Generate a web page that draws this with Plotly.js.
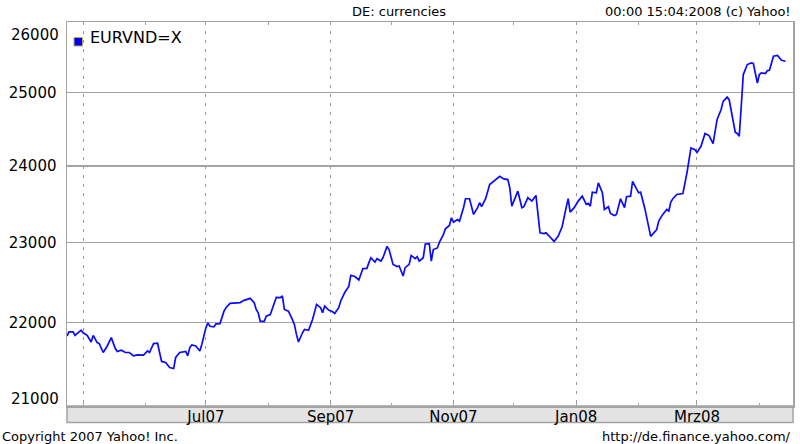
<!DOCTYPE html>
<html><head><meta charset="utf-8">
<script src="https://cdn.plot.ly/plotly-3.0.1.min.js"></script>
<style>html,body{margin:0;padding:0;background:#fff}#chart{width:800px;height:444px}</style>
</head><body><div id="chart"></div>
<script>
const seriesName = 'EURVND=X';
const dates = ['2007-04-23','2007-04-24','2007-04-26','2007-04-27','2007-04-30','2007-05-01','2007-05-03','2007-05-05','2007-05-06','2007-05-08','2007-05-09','2007-05-11','2007-05-13','2007-05-15','2007-05-17','2007-05-18','2007-05-20','2007-05-22','2007-05-24','2007-05-26','2007-05-28','2007-05-31','2007-06-02','2007-06-03','2007-06-05','2007-06-07','2007-06-08','2007-06-09','2007-06-11','2007-06-13','2007-06-15','2007-06-16','2007-06-18','2007-06-21','2007-06-22','2007-06-23','2007-06-24','2007-06-26','2007-06-28','2007-06-29','2007-07-01','2007-07-02','2007-07-03','2007-07-05','2007-07-06','2007-07-08','2007-07-10','2007-07-11','2007-07-13','2007-07-18','2007-07-20','2007-07-23','2007-07-25','2007-07-26','2007-07-27','2007-07-28','2007-07-30','2007-07-31','2007-08-02','2007-08-04','2007-08-05','2007-08-07','2007-08-08','2007-08-09','2007-08-11','2007-08-13','2007-08-14','2007-08-15','2007-08-16','2007-08-18','2007-08-19','2007-08-21','2007-08-23','2007-08-25','2007-08-27','2007-08-28','2007-08-29','2007-08-31','2007-09-02','2007-09-03','2007-09-05','2007-09-06','2007-09-08','2007-09-10','2007-09-11','2007-09-13','2007-09-15','2007-09-17','2007-09-19','2007-09-20','2007-09-21','2007-09-23','2007-09-24','2007-09-26','2007-09-27','2007-09-29','2007-09-30','2007-10-02','2007-10-04','2007-10-05','2007-10-07','2007-10-08','2007-10-10','2007-10-11','2007-10-13','2007-10-14','2007-10-15','2007-10-17','2007-10-18','2007-10-20','2007-10-21','2007-10-22','2007-10-24','2007-10-25','2007-10-27','2007-10-28','2007-10-30','2007-10-31','2007-11-01','2007-11-03','2007-11-04','2007-11-06','2007-11-07','2007-11-09','2007-11-11','2007-11-13','2007-11-14','2007-11-15','2007-11-17','2007-11-19','2007-11-21','2007-11-23','2007-11-24','2007-11-26','2007-11-28','2007-11-29','2007-11-30','2007-12-02','2007-12-03','2007-12-05','2007-12-06','2007-12-08','2007-12-10','2007-12-12','2007-12-14','2007-12-16','2007-12-17','2007-12-19','2007-12-21','2007-12-23','2007-12-25','2007-12-27','2007-12-28','2007-12-29','2007-12-31','2008-01-02','2008-01-04','2008-01-06','2008-01-07','2008-01-08','2008-01-09','2008-01-11','2008-01-12','2008-01-14','2008-01-15','2008-01-17','2008-01-18','2008-01-20','2008-01-21','2008-01-23','2008-01-25','2008-01-26','2008-01-28','2008-01-29','2008-01-31','2008-02-01','2008-02-02','2008-02-04','2008-02-07','2008-02-09','2008-02-10','2008-02-11','2008-02-13','2008-02-15','2008-02-16','2008-02-17','2008-02-18','2008-02-20','2008-02-23','2008-02-25','2008-02-27','2008-02-29','2008-03-01','2008-03-03','2008-03-05','2008-03-07','2008-03-09','2008-03-11','2008-03-13','2008-03-14','2008-03-16','2008-03-17','2008-03-18','2008-03-20','2008-03-21','2008-03-22','2008-03-23','2008-03-24','2008-03-26','2008-03-28','2008-03-29','2008-03-31','2008-04-01','2008-04-02','2008-04-04','2008-04-05','2008-04-06','2008-04-08','2008-04-10','2008-04-11','2008-04-12','2008-04-14'];
const rates = [21833,21885,21885,21841,21904,21873,21841,21761,21841,21754,21742,21634,21713,21814,21682,21646,21662,21634,21634,21594,21606,21602,21653,21634,21742,21746,21634,21527,21515,21455,21443,21575,21634,21646,21594,21694,21725,21713,21653,21734,21933,21993,21952,21945,21981,21985,22138,22180,22234,22243,22271,22296,22243,22159,22118,22013,22013,22075,22096,22243,22309,22305,22325,22159,22138,22034,21972,21853,21761,21873,21913,21904,22034,22221,22180,22118,22200,22150,22130,22109,22180,22263,22368,22443,22584,22568,22525,22668,22671,22743,22805,22750,22793,22763,22805,22950,22909,22721,22693,22700,22575,22680,22721,22834,22793,22818,22763,22805,22980,22984,22763,22909,22930,23000,23100,23175,23218,23318,23261,23296,23274,23449,23566,23566,23361,23449,23514,23462,23566,23752,23795,23827,23861,23827,23818,23709,23469,23600,23665,23449,23462,23579,23535,23609,23123,23113,23123,23070,23013,23078,23201,23449,23566,23391,23449,23535,23600,23492,23505,23469,23652,23644,23774,23644,23426,23462,23374,23348,23361,23566,23449,23592,23600,23795,23687,23644,23652,23449,23078,23143,23166,23274,23361,23426,23404,23522,23566,23622,23635,23905,24241,24218,24181,24263,24437,24409,24300,24628,24764,24877,24937,24900,24741,24454,24437,24400,24809,25251,25392,25416,25407,25133,25251,25275,25265,25307,25312,25510,25520,25487,25453,25439];
const xTickDates = ['2007-05-01','2007-07-01','2007-09-01','2007-11-01','2008-01-01','2008-03-01'];
const xTickLabels = ['','Jul07','Sep07','Nov07','Jan08','Mrz08'];
const yTickVals = [21000,22000,23000,24000,25000,26000];
const yTickLabels = ['','22000','23000','24000','25000',''];
const yEdgeLabels = ['21000','26000'];
const titleText = 'DE: currencies';
const stampText = '00:00 15:04:2008 (c) Yahoo!';
const copyText = 'Copyright 2007 Yahoo! Inc.';
const urlText = 'http://de.finance.yahoo.com/';

const F = 'DejaVu Sans, Verdana, sans-serif';
const grey = '#a3a3a3';

const trace = {
  x: dates, y: rates, type: 'scatter', mode: 'lines', name: seriesName,
  line: {color: '#0a0aff', width: 1.7}, hoverinfo: 'x+y'
};

const layout = {
  width: 800, height: 444,
  margin: {l: 67, r: 7, t: 22, b: 38},
  paper_bgcolor: '#fff', plot_bgcolor: '#fff',
  showlegend: false,
  font: {family: F, color: '#000'},
  xaxis: {
    type: 'date',
    range: ['2007-04-23', '2008-04-17 17:00'],
    tickmode: 'array', tickvals: xTickDates, ticktext: xTickLabels,
    ticks: 'inside', ticklen: 3, tickcolor: grey, tickwidth: 1,
    showgrid: true, gridcolor: '#999999', gridwidth: 1, griddash: '3px,6px',
    minor: {dtick: 'M1', tick0: '2007-05-01', ticks: 'inside', ticklen: 3, tickcolor: grey, showgrid: false},
    showline: true, linecolor: grey, linewidth: 1.5, mirror: 'ticks',
    tickfont: {family: F, size: 15, color: '#000'},
    ticklabelstandoff: -4,
    zeroline: false, fixedrange: true
  },
  yaxis: {
    type: 'log',
    range: [Math.log10(21000), Math.log10(26000)],
    tickmode: 'array', tickvals: yTickVals, ticktext: yTickLabels,
    ticks: '', showgrid: true, gridcolor: grey, gridwidth: 1.5,
    showline: true, linecolor: grey, linewidth: 1.5, mirror: true,
    tickfont: {family: F, size: 15, color: '#000'},
    ticklabelstandoff: 6,
    zeroline: false, fixedrange: true
  },
  shapes: [
    {type: 'rect', xref: 'paper', yref: 'paper', x0: 0, x1: 1,
     ysizemode: 'pixel', yanchor: 0, y0: -16.5, y1: 0,
     fillcolor: '#e3e3e3', line: {color: grey, width: 1.5}, layer: 'below'},
    {type: 'rect', xref: 'paper', yref: 'paper',
     xsizemode: 'pixel', xanchor: 0, x0: 7, x1: 15.5,
     ysizemode: 'pixel', yanchor: 1, y0: -24, y1: -15.5,
     fillcolor: '#0000ee', line: {color: '#b8b060', width: 1}}
  ],
  annotations: [
    {text: seriesName, xref: 'paper', yref: 'paper', x: 0, y: 1, xanchor: 'left', yanchor: 'middle',
     xshift: 21, yshift: -15, showarrow: false, font: {family: F, size: 16, color: '#000'}},
    {text: yEdgeLabels[1], xref: 'paper', yref: 'paper', x: 0, y: 1, xanchor: 'right', yanchor: 'middle',
     xshift: -6, yshift: -13, showarrow: false, font: {family: F, size: 15, color: '#000'}},
    {text: yEdgeLabels[0], xref: 'paper', yref: 'paper', x: 0, y: 0, xanchor: 'right', yanchor: 'middle',
     xshift: -6, yshift: 7, showarrow: false, font: {family: F, size: 15, color: '#000'}},
    {text: titleText, xref: 'paper', yref: 'paper', x: 0.457, y: 1, xanchor: 'center', yanchor: 'middle',
     yshift: 11, showarrow: false, font: {family: F, size: 13, color: '#000'}},
    {text: stampText, xref: 'paper', yref: 'paper', x: 1, y: 1, xanchor: 'right', yanchor: 'middle',
     yshift: 11, showarrow: false, font: {family: F, size: 13, color: '#000'}},
    {text: copyText, xref: 'paper', yref: 'paper', x: 0, y: 0, xanchor: 'left', yanchor: 'middle',
     xshift: -67, yshift: -30, showarrow: false, font: {family: F, size: 13, color: '#000'}},
    {text: urlText, xref: 'paper', yref: 'paper', x: 1, y: 0, xanchor: 'right', yanchor: 'middle',
     yshift: -30, showarrow: false, font: {family: F, size: 13, color: '#000'}}
  ]
};

Plotly.newPlot('chart', [trace], layout, {displayModeBar: false, staticPlot: true});
</script>
</body></html>
